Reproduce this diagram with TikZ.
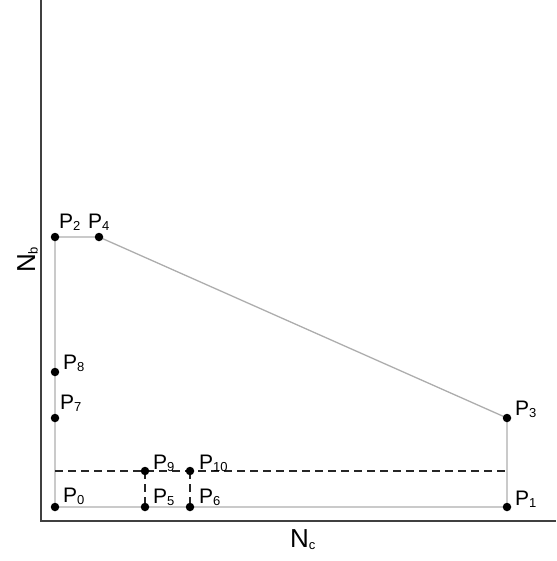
\documentclass[tikz,border=0pt]{standalone}
\usepackage{fontspec}
\setmainfont{Liberation Sans}
\newcommand{\subl}[1]{\raisebox{-2.5pt}{\fontsize{13}{13}\selectfont #1}}
\newcommand{\pl}[1]{P\subl{#1}}
\begin{document}
\begin{tikzpicture}[x=1pt,y=-1pt,
  axis/.style={draw=black!75,line width=1.8pt},
  edge/.style={draw=black!32,line width=1.3pt},
  dashln/.style={draw=black!85,line width=1.4pt,dash pattern=on 8pt off 5pt},
  pt/.style={circle,fill=black,inner sep=0pt,minimum size=8.5pt},
  lab/.style={anchor=base west,inner sep=0pt,font=\fontsize{21}{21}\selectfont},
  axlab/.style={inner sep=0pt,font=\fontsize{26}{26}\selectfont}]
\useasboundingbox (0,0) rectangle (556,561);
% axes
\coordinate (top) at (41,0);
\coordinate (org) at (41,521);
\coordinate (right) at (556,521);
\draw[axis] (top) -- (org) -- (right);
% points
\coordinate (P0) at (55,507);
\coordinate (P1) at (507,507);
\coordinate (P2) at (55,237);
\coordinate (P3) at (507,418);
\coordinate (P4) at (99,237);
\coordinate (P5) at (145,507);
\coordinate (P6) at (190,507);
\coordinate (P7) at (55,418);
\coordinate (P8) at (55,372);
\coordinate (P9) at (145,471);
\coordinate (P10) at (190,471);
\coordinate (DL) at (55,471);
\coordinate (DR) at (507,471);
% polygon
\draw[edge] (P0) -- (P1) -- (P3) -- (P4) -- (P2) -- cycle;
% dashed
\draw[dashln] (DL) -- (DR);
\draw[dashln] (P9) -- (P5);
\draw[dashln] (P10) -- (P6);
% dots
\foreach \p in {P0,P1,P2,P3,P4,P5,P6,P7,P8,P9,P10}
  \node[pt] (d\p) at (\p) {};
% labels
\node[lab] (l0) at (63,502) {\pl{0}};
\node[lab] (l1) at (515,505) {\pl{1}};
\node[lab] (l2) at (59,228) {\pl{2}};
\node[lab] (l3) at (515,415) {\pl{3}};
\node[lab] (l4) at (88,228) {\pl{4}};
\node[lab] (l5) at (153,503) {\pl{5}};
\node[lab] (l6) at (199,503) {\pl{6}};
\node[lab] (l7) at (60,409) {\pl{7}};
\node[lab] (l8) at (63,369) {\pl{8}};
\node[lab] (l9) at (153,469) {\pl{9}};
\node[lab] (l10) at (199,469) {\pl{10}};
% axis labels
\node[axlab,anchor=base west] (nc) at (290,547) {N\subl{c}};
\node[axlab,anchor=base west,rotate=90] (nb) at (35,273) {N\subl{b}};
\end{tikzpicture}
\end{document}
